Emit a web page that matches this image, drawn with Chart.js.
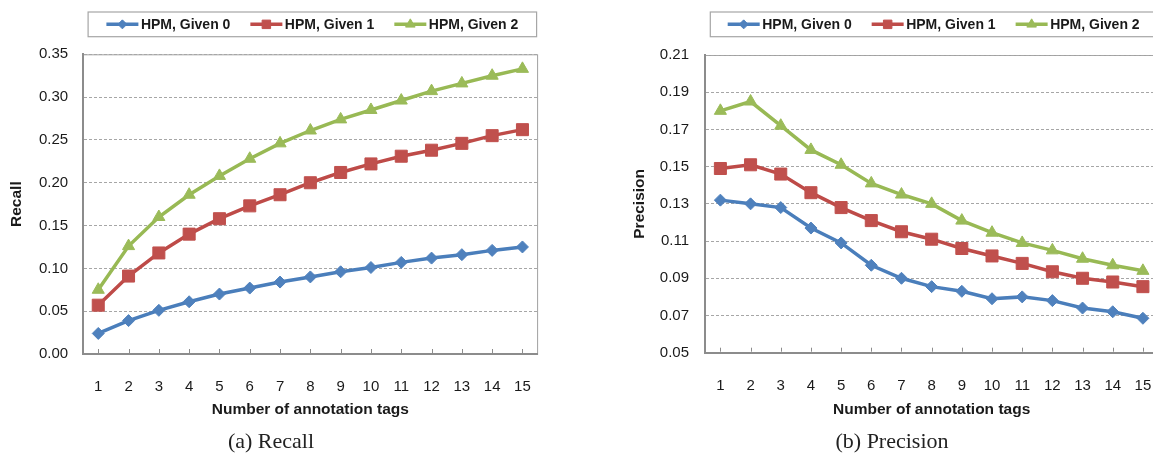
<!DOCTYPE html>
<html>
<head>
<meta charset="utf-8">
<script src="https://cdn.jsdelivr.net/npm/chart.js@4.4.1/dist/chart.umd.min.js"></script>
<style>
    html, body { margin: 0; padding: 0; background: #fff; overflow: hidden; }
    body { width: 1153px; height: 454px; position: relative; }
    canvas { position: absolute; top: 0; }
    #recallChart { left: 0; }
    #precisionChart { left: 580px; }
    .caption {
        position: absolute; top: 428px; width: 300px; text-align: center;
        font-family: 'Liberation Serif', 'DejaVu Serif', serif; font-size: 22px; color: #222;
    }
</style>
</head>
<body>
<canvas id="recallChart" width="580" height="454"></canvas>
<canvas id="precisionChart" width="620" height="454"></canvas>
<div class="caption" style="left:121px">(a) Recall</div>
<div class="caption" style="left:742px">(b) Precision</div>
<script>
// data
const tags = ['1', '2', '3', '4', '5', '6', '7', '8', '9', '10', '11', '12', '13', '14', '15'];
const seriesNames = ['HPM, Given 0', 'HPM, Given 1', 'HPM, Given 2'];

const recallGiven0 = [0.024, 0.039, 0.051, 0.061, 0.070, 0.077, 0.084, 0.090, 0.096, 0.101, 0.107, 0.112, 0.116, 0.121, 0.125];
const recallGiven1 = [0.057, 0.091, 0.118, 0.140, 0.158, 0.173, 0.186, 0.200, 0.212, 0.222, 0.231, 0.238, 0.246, 0.255, 0.262];
const recallGiven2 = [0.075, 0.126, 0.160, 0.186, 0.208, 0.228, 0.246, 0.261, 0.274, 0.285, 0.296, 0.307, 0.316, 0.325, 0.333];

const precisionGiven0 = [0.132, 0.130, 0.128, 0.117, 0.109, 0.097, 0.090, 0.0855, 0.083, 0.079, 0.080, 0.078, 0.074, 0.072, 0.0685];
const precisionGiven1 = [0.149, 0.151, 0.146, 0.136, 0.128, 0.121, 0.115, 0.111, 0.106, 0.102, 0.098, 0.0935, 0.090, 0.088, 0.0855];
const precisionGiven2 = [0.180, 0.185, 0.172, 0.159, 0.151, 0.141, 0.135, 0.130, 0.121, 0.1145, 0.109, 0.105, 0.1005, 0.097, 0.094];

const recallTicks = [0.00, 0.05, 0.10, 0.15, 0.20, 0.25, 0.30, 0.35];
const precisionTicks = [0.05, 0.07, 0.09, 0.11, 0.13, 0.15, 0.17, 0.19, 0.21];

const FONT = "'Liberation Sans', Arial, sans-serif";
const TEXT = '#1a1a1a';
const AXIS = '#8c8c8c';

// Excel 2007 style series
const styles = [
    { line: '#4A7EBB', fill: '#4F81BD', point: 'rectRot', radius: 6, legendRadius: 4.5 },
    { line: '#BE4B48', fill: '#C0504D', point: 'rect', radius: 8.5, legendRadius: 6 },
    { line: '#98B954', fill: '#9BBB59', point: 'triangle', radius: 7, legendRadius: 5.5 }
];

function makeDatasets(list) {
    return list.map((data, i) => ({
        label: seriesNames[i],
        data: data,
        borderColor: styles[i].line,
        backgroundColor: styles[i].fill,
        borderWidth: 3.5,
        pointStyle: styles[i].point,
        pointRadius: styles[i].radius,
        pointBackgroundColor: styles[i].fill,
        pointBorderColor: styles[i].fill,
        pointBorderWidth: 1,
        tension: 0,
        fill: false
    }));
}

// plot frame + small inside tick marks on the category axis
const framePlugin = {
    id: 'frame',
    beforeDraw(chart) {
        const { ctx, chartArea: a } = chart;
        ctx.save();
        ctx.strokeStyle = '#a0a0a0';
        ctx.lineWidth = 1;
        ctx.strokeRect(a.left, a.top + 0.5, a.right - a.left, a.bottom - a.top);
        ctx.restore();
    },
    afterDraw(chart) {
        const { ctx, chartArea: a } = chart;
        const xs = chart.scales.x;
        ctx.save();
        ctx.strokeStyle = AXIS;
        ctx.lineWidth = 1;
        ctx.beginPath();
        xs.ticks.forEach((t, i) => {
            const x = Math.round(xs.getPixelForTick(i)) + 0.5;
            ctx.moveTo(x, a.bottom - 5);
            ctx.lineTo(x, a.bottom - 1);
        });
        ctx.stroke();
        ctx.restore();
    }
};

// boxed legend with line + marker, drawn from the datasets
const legendPlugin = {
    id: 'boxLegend',
    afterDraw(chart) {
        const { ctx, chartArea: a } = chart;
        const boxLeft = a.left + 5, boxRight = a.right - 1;
        const boxTop = 12, boxBottom = 36.7;
        const lineLen = 32, gap = 2.5, itemGap = 20;
        ctx.save();
        ctx.font = "bold 14px " + FONT;
        const widths = chart.data.datasets.map(d => ctx.measureText(d.label).width);
        const total = widths.reduce((s, w) => s + lineLen + gap + w, 0) + itemGap * (widths.length - 1);

        ctx.strokeStyle = '#a6a6a6';
        ctx.lineWidth = 1.2;
        ctx.strokeRect(boxLeft, boxTop, boxRight - boxLeft, boxBottom - boxTop);

        let x = (boxLeft + boxRight) / 2 - total / 2;
        const y = (boxTop + boxBottom) / 2;
        chart.data.datasets.forEach((d, i) => {
            ctx.strokeStyle = d.borderColor;
            ctx.lineWidth = 3.5;
            ctx.beginPath();
            ctx.moveTo(x, y);
            ctx.lineTo(x + lineLen, y);
            ctx.stroke();
            ctx.fillStyle = d.pointBackgroundColor;
            ctx.strokeStyle = d.pointBorderColor;
            ctx.lineWidth = 1;
            Chart.helpers.drawPoint(ctx, { pointStyle: d.pointStyle, radius: styles[i].legendRadius, rotation: 0, borderWidth: 1 }, x + lineLen / 2, y);
            ctx.fillStyle = TEXT;
            ctx.textBaseline = 'middle';
            ctx.textAlign = 'left';
            ctx.fillText(d.label, x + lineLen + gap, y + 0.5);
            x += lineLen + gap + widths[i] + itemGap;
        });
        ctx.restore();
    }
};

function makeChart(canvasId, opts) {
    const canvas = document.getElementById(canvasId);
    const ctx = canvas.getContext('2d');
    return new Chart(ctx, {
        type: 'line',
        data: { labels: tags, datasets: makeDatasets(opts.series) },
        options: {
            responsive: false,
            animation: false,
            devicePixelRatio: 1,
            layout: { padding: { top: opts.top, right: opts.right, bottom: 30, left: 0 } },
            plugins: { legend: { display: false }, tooltip: { enabled: false } },
            scales: {
                x: {
                    type: 'category',
                    offset: true,
                    afterFit: s => { s.height = opts.xHeight; },
                    grid: { display: false, drawTicks: false },
                    border: { display: true, color: AXIS, width: 2 },
                    ticks: { color: TEXT, font: { family: FONT, size: 15 }, padding: 23.7, maxRotation: 0, autoSkip: false },
                    title: { display: true, text: 'Number of annotation tags', color: TEXT,
                             font: { family: FONT, size: 15.5, weight: 'bold' }, padding: { top: 0, bottom: 5.4 } }
                },
                y: {
                    min: opts.ticks[0],
                    max: opts.ticks[opts.ticks.length - 1],
                    afterBuildTicks: s => { s.ticks = opts.ticks.map(v => ({ value: v })); },
                    afterFit: s => { s.width = opts.yWidth; },
                    grid: { color: '#a6a6a6', lineWidth: 1, drawTicks: false },
                    border: { display: true, color: AXIS, width: 2, dash: [3, 2] },
                    ticks: {
                        color: TEXT, font: { family: FONT, size: 15 }, padding: opts.tickPad,
                        callback: v => Number(v).toFixed(2)
                    },
                    title: { display: true, text: opts.title, color: TEXT,
                             font: { family: FONT, size: 15.5, weight: 'bold' }, padding: { top: opts.titlePad, bottom: 0 } }
                }
            }
        },
        plugins: [framePlugin, legendPlugin]
    });
}

makeChart('recallChart', {
    series: [recallGiven0, recallGiven1, recallGiven2],
    ticks: recallTicks, title: 'Recall',
    top: 54.3, right: 42.4, xHeight: 70, yWidth: 83.1, tickPad: 15, titlePad: 7.4
});

makeChart('precisionChart', {
    series: [precisionGiven0, precisionGiven1, precisionGiven2],
    ticks: precisionTicks, title: 'Precision',
    top: 55, right: 42, xHeight: 71.3, yWidth: 125.3, tickPad: 16.3, titlePad: 50
});
</script>
</body>
</html>
